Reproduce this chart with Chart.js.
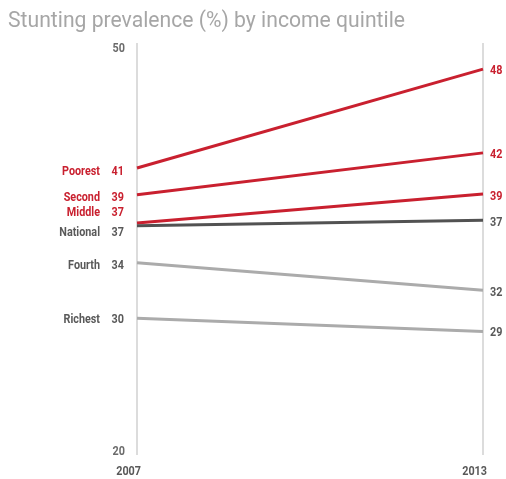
<!DOCTYPE html>
<html>
<head>
<meta charset="utf-8">
<script src="https://cdn.jsdelivr.net/npm/chart.js@4"></script>
<style>
html,body{margin:0;padding:0;background:#fff;}
#wrap{position:relative;width:506px;height:479px;}
</style>
</head>
<body>
<div id="wrap"><canvas id="c" width="506" height="479"></canvas></div>
<script>
const years = ['2007', '2013'];
const seriesNames = ['Poorest', 'Second', 'Middle', 'National', 'Fourth', 'Richest'];
const poorest = [40.9, 48.1];
const second = [38.95, 42.0];
const middle = [36.9, 39.0];
const national = [36.7, 37.1];
const fourth = [34.0, 32.0];
const richest = [29.95, 29.0];
const startLabels = ['41', '39', '37', '37', '34', '30'];
const endLabels = ['48', '42', '39', '37', '32', '29'];
const yTickLabels = [50, 20];
const titleText = 'Stunting prevalence (%) by income quintile';

const RED = '#c9202f';
const DARK = '#525252';
const LIGHT = '#ababab';
const lineColors = [RED, RED, RED, DARK, LIGHT, LIGHT];
const labelColors = [RED, RED, RED, '#595959', '#595959', '#595959'];
const allSeries = [poorest, second, middle, national, fourth, richest];
const startNudge = [4, 3, -10, 7, 3, 2];
const endNudge = [2, 2, 3, 3, 3, 2];

const FONT = 'Roboto, "Liberation Sans", sans-serif';

// draw text horizontally compressed by factor sx
function drawSquished(ctx, text, x, y, align, sx) {
  const w = ctx.measureText(text).width * sx;
  let left = x;
  if (align === 'right') left = x - w;
  else if (align === 'center') left = x - w / 2;
  ctx.save();
  ctx.textAlign = 'left';
  ctx.translate(left, y);
  ctx.scale(sx, 1);
  ctx.fillText(text, 0, 0);
  ctx.restore();
}

const overlay = {
  id: 'overlay',
  beforeDatasetsDraw(chart) {
    const ctx = chart.ctx;
    const xs = chart.scales.x;
    const a = chart.chartArea;
    ctx.save();
    ctx.strokeStyle = '#dcdcdc';
    ctx.lineWidth = 2;
    years.forEach((y, i) => {
      const x = Math.round(xs.getPixelForValue(i));
      ctx.beginPath();
      ctx.moveTo(x, a.top);
      ctx.lineTo(x, a.bottom);
      ctx.stroke();
    });
    ctx.restore();
  },
  afterDraw(chart) {
    const ctx = chart.ctx;
    const xs = chart.scales.x, ys = chart.scales.y;
    const a = chart.chartArea;
    ctx.save();
    // title
    ctx.fillStyle = '#a6a6a6';
    ctx.font = '22px ' + FONT;
    ctx.textBaseline = 'alphabetic';
    const tw = ctx.measureText(titleText).width;
    drawSquished(ctx, titleText, 8, 27, 'left', 397 / tw);

    ctx.font = 'bold 12px ' + FONT;
    ctx.textBaseline = 'middle';
    const sx = 38 / ctx.measureText('Poorest').width;
    const x0 = xs.getPixelForValue(0);
    const x1 = xs.getPixelForValue(1);
    // y tick labels
    ctx.fillStyle = '#6b6b6b';
    drawSquished(ctx, String(yTickLabels[0]), x0 - 12, ys.getPixelForValue(yTickLabels[0]) + 6, 'right', sx);
    drawSquished(ctx, String(yTickLabels[1]), x0 - 12, ys.getPixelForValue(yTickLabels[1]) - 3, 'right', sx);
    // year labels
    ctx.fillStyle = '#595959';
    drawSquished(ctx, years[0], x0 + 4, a.bottom + 17, 'right', sx);
    drawSquished(ctx, years[1], x1 + 4, a.bottom + 17, 'right', sx);
    // series labels
    allSeries.forEach((s, i) => {
      const yl = ys.getPixelForValue(s[0]) + startNudge[i];
      ctx.fillStyle = labelColors[i];
      drawSquished(ctx, startLabels[i], x0 - 13, yl, 'right', sx);
      drawSquished(ctx, seriesNames[i], x0 - 37, yl, 'right', sx);
      const yr = ys.getPixelForValue(s[1]) + endNudge[i];
      drawSquished(ctx, endLabels[i], x1 + 7, yr, 'left', sx);
    });
    ctx.restore();
  }
};

new Chart(document.getElementById('c'), {
  type: 'line',
  data: {
    labels: years,
    datasets: allSeries.map((s, i) => ({
      label: seriesNames[i],
      data: s,
      borderColor: lineColors[i],
      borderWidth: 3,
      pointRadius: 0,
      fill: false,
      tension: 0,
      order: i === 3 ? 0 : 1
    }))
  },
  options: {
    responsive: false,
    animation: false,
    events: [],
    layout: { padding: { left: 137, right: 23, top: 43, bottom: 24 } },
    plugins: { legend: { display: false }, title: { display: false }, tooltip: { enabled: false } },
    scales: {
      x: { type: 'category', display: false, offset: false },
      y: { type: 'linear', display: false, min: 20, max: 50 }
    }
  },
  plugins: [overlay]
});
</script>
</body>
</html>
